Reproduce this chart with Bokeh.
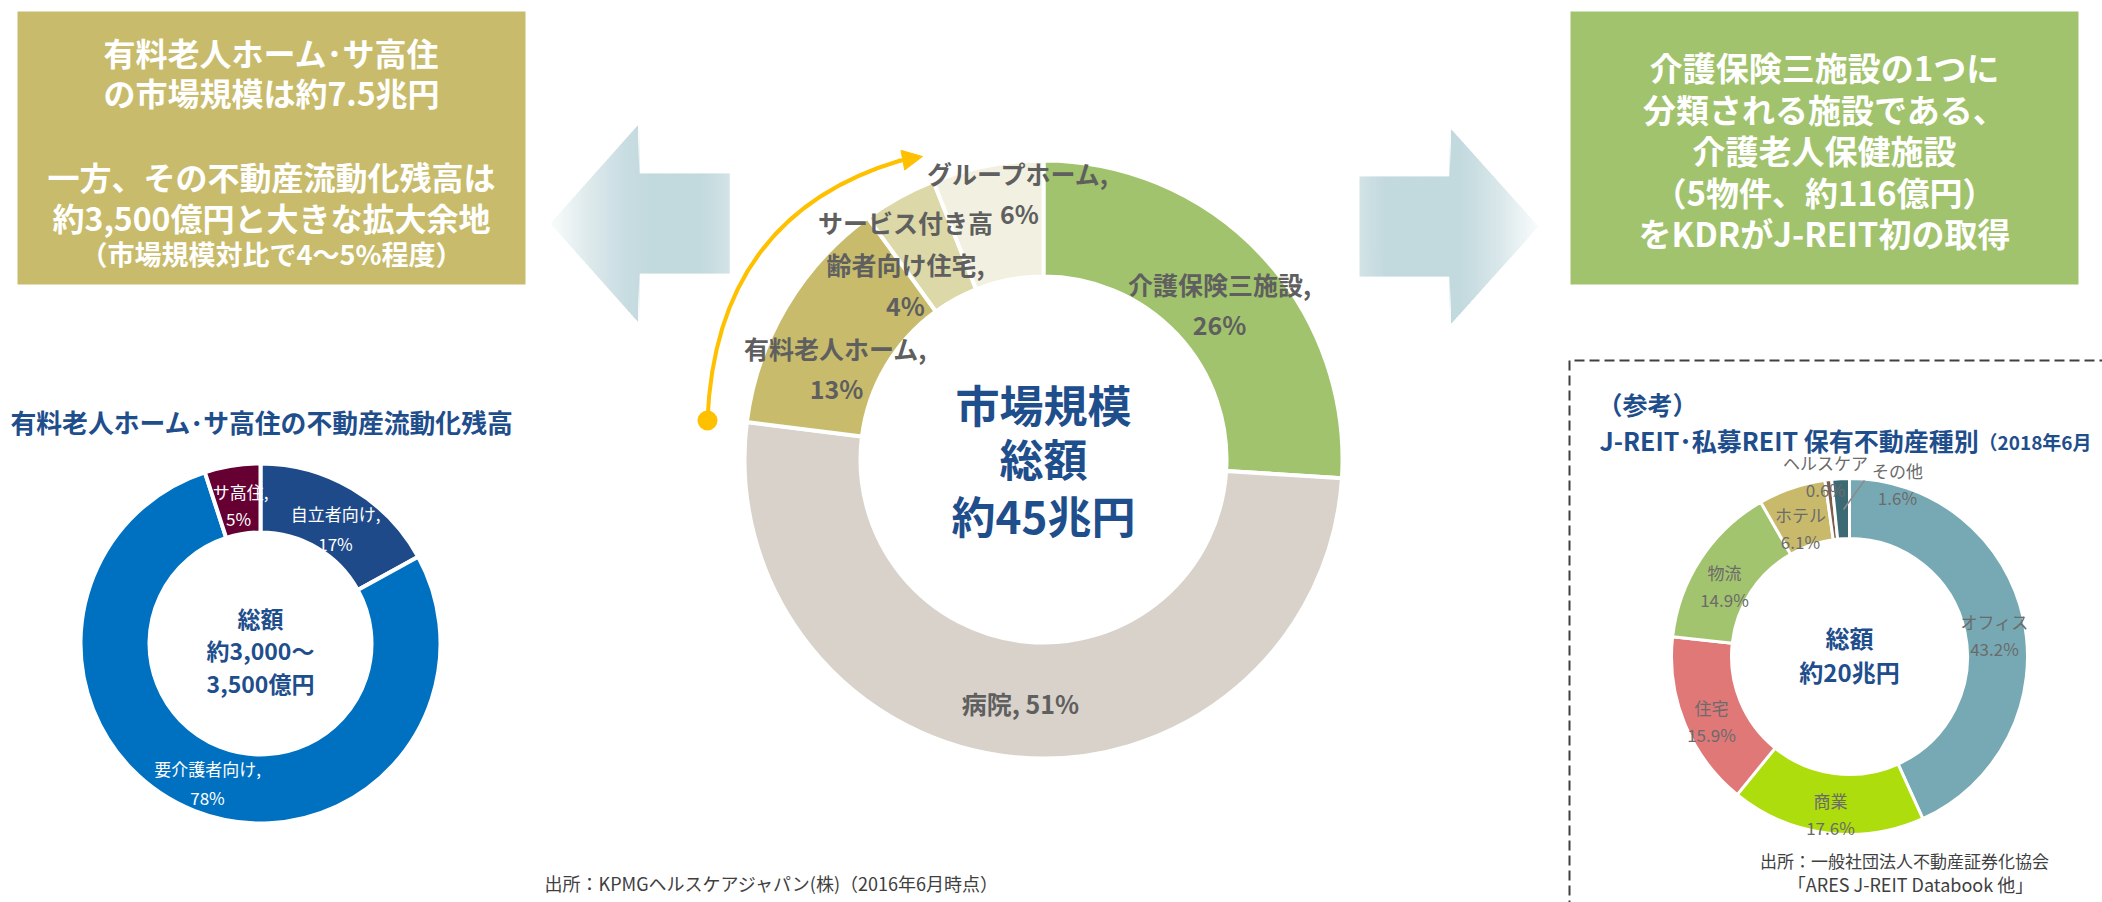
import numpy as np
from bokeh.plotting import figure
from bokeh.models import Range1d, Arrow, NormalHead, ColumnDataSource
from bokeh.core.properties import value
from bokeh.embed import file_html
from bokeh.resources import INLINE

# ---------------- data ----------------
market_labels = ["介護保険三施設", "病院", "有料老人ホーム", "サービス付き高齢者向け住宅", "グループホーム"]
market_share = [26, 51, 13, 4, 6]
market_colors = ["#A2C36D", "#D8D2CA", "#C8BC6C", "#DDD8A8", "#F2F0E0"]
market_center = ["市場規模", "総額", "約45兆円"]

stock_labels = ["自立者向け", "要介護者向け", "サ高住"]
stock_share = [17, 78, 5]
stock_colors = ["#1F4A8A", "#0070C0", "#660033"]
stock_title = "有料老人ホーム･サ高住の不動産流動化残高"
stock_center = ["総額", "約3,000～", "3,500億円"]

reit_labels = ["オフィス", "商業", "住宅", "物流", "ホテル", "ヘルスケア", "その他"]
reit_share = [43.2, 17.6, 15.9, 14.9, 6.1, 0.6, 1.6]
reit_colors = ["#76A9B3", "#AEDD0E", "#E07878", "#A3C46E", "#C9BA6B", "#7D5E4E", "#3B6A74"]
reit_title = ["（参考）", "J-REIT･私募REIT 保有不動産種別", "（2018年6月"]
reit_center = ["総額", "約20兆円"]

left_box_lines = ["有料老人ホーム･サ高住", "の市場規模は約7.5兆円",
                  "一方、その不動産流動化残高は", "約3,500億円と大きな拡大余地",
                  "（市場規模対比で4～5%程度）"]
right_box_lines = ["介護保険三施設の1つに", "分類される施設である、", "介護老人保健施設",
                   "（5物件、約116億円）", "をKDRがJ-REIT初の取得"]
source_center = "出所：KPMGヘルスケアジャパン(株)（2016年6月時点）"
source_right = ["出所：一般社団法人不動産証券化協会", "「ARES J-REIT Databook 他」"]

# ---------------- layout ----------------
FONT = "Noto Sans CJK JP"
BLUE = "#1F4E8C"
W, H = 2102, 902


def Y(y):
    return H - y


p = figure(width=W, height=H, output_backend="svg", toolbar_location=None,
           x_range=Range1d(0, W), y_range=Range1d(0, H), min_border=0)
p.axis.visible = False
p.grid.visible = False
p.outline_line_color = None
p.background_fill_color = "white"
p.border_fill_color = "white"


def txt(x, y, s, size, color, bold=False, align="center"):
    p.text(x=[x], y=[Y(y)], text=[s], text_font=value(FONT),
           text_font_size=f"{size}px", text_color=color,
           text_font_style="bold" if bold else "normal",
           text_align=align, text_baseline="middle")


def donut(cx, cy, r_in, r_out, shares, colors, sep):
    v = np.array(shares, dtype=float)
    c = np.concatenate([[0], np.cumsum(v)]) / v.sum()
    start = np.pi / 2 - 2 * np.pi * c[1:]
    end = np.pi / 2 - 2 * np.pi * c[:-1]
    src = ColumnDataSource(dict(start=start, end=end, color=colors))
    p.annular_wedge(x=cx, y=Y(cy), inner_radius=r_in, outer_radius=r_out,
                    start_angle="start", end_angle="end", fill_color="color",
                    line_color="white", line_width=sep, source=src)


def grad_arrow(tip, base, end, cy, head_half, shaft_half, stops):
    sx = [s[0] for s in stops]
    xs, ys, cols = [], [], []
    lo, hi = min(tip, end), max(tip, end)
    edges = np.arange(lo, hi + 1.5, 1.5)
    for a, b in zip(edges[:-1], edges[1:]):
        b2 = min(b + 0.6, hi)

        def half(x):
            if (x - base) * (tip - base) > 0:
                return head_half * (x - tip) / (base - tip)
            return shaft_half
        pts_x = [a, b2, b2, a]
        if (a - base) * (b2 - base) < 0:
            pts_x = [a, base, b2, b2, base, a]
        hs = [half(x) for x in pts_x]
        n = len(pts_x) // 2
        yy = [Y(cy - hs[i]) for i in range(n)] + [Y(cy + hs[i]) for i in range(n, 2 * n)]
        xs.append(pts_x)
        ys.append(yy)
        m = (a + b) / 2
        rgb = [int(round(np.interp(m, sx, [s[1][k] for s in stops]))) for k in range(3)]
        cols.append("#%02x%02x%02x" % tuple(rgb))
    p.patches(xs=xs, ys=ys, fill_color=cols, line_color=None)


# ---- boxes ----
p.quad(left=[17], right=[525], top=[Y(11)], bottom=[Y(284)], fill_color="#C8BC6C", line_color=None)
p.quad(left=[1570], right=[2078], top=[Y(11)], bottom=[Y(284)], fill_color="#A2C36D", line_color=None)
for s, yy, fs in zip(left_box_lines, [51, 91, 175, 216, 253], [32, 32, 32, 32, 27]):
    txt(271, yy, s, fs, "white", bold=True)
for s, yy in zip(right_box_lines, [66, 108, 149, 191, 232]):
    txt(1824, yy, s, 33, "white", bold=True)

# ---- gradient arrows ----
grad_arrow(550, 639, 729, 223, 100, 50,
           [(550, (250, 252, 252)), (587, (222, 234, 236)), (625, (200, 221, 226)),
            (650, (194, 217, 222)), (700, (194, 217, 222)), (729, (210, 227, 230))])
grad_arrow(1538, 1449, 1359, 226, 99, 50,
           [(1359, (210, 227, 230)), (1385, (194, 217, 222)), (1460, (194, 217, 222)),
            (1500, (218, 232, 235)), (1538, (250, 252, 252))])

# ---- center donut ----
donut(1043, 459, 183, 299, market_share, market_colors, 4)
GRAY = "#5F5F5F"
m = market_labels
ms = market_share
FS = 25
txt(1219, 283, f"{m[0]},", FS, GRAY, True)
txt(1219, 323, f"{ms[0]}%", FS, GRAY, True)
txt(1020, 702, f"{m[1]}, {ms[1]}%", FS, GRAY, True)
txt(835, 347, f"{m[2]},", FS, GRAY, True)
txt(836, 387, f"{ms[2]}%", FS, GRAY, True)
txt(905, 221, m[3][:7], FS, GRAY, True)
txt(905, 263, m[3][7:] + ",", FS, GRAY, True)
txt(905, 304, f"{ms[3]}%", FS, GRAY, True)
txt(1018, 172, f"{m[4]},", FS, GRAY, True)
txt(1019, 212, f"{ms[4]}%", FS, GRAY, True)
for s, yy in zip(market_center, [403, 457, 514]):
    txt(1043, yy, s, 44, BLUE, True)

# orange arc with arrow
ORANGE = "#FFC000"
p.quadratic(x0=[707], y0=[Y(420)], x1=[900], y1=[Y(160)], cx=[715], cy=[Y(215)],
            line_color=ORANGE, line_width=4)
p.add_layout(Arrow(end=NormalHead(size=20, fill_color=ORANGE, line_color=ORANGE),
                   x_start=898, y_start=Y(160.5), x_end=922, y_end=Y(156),
                   line_color=ORANGE, line_width=4))
p.scatter(x=[707], y=[Y(420)], size=20, marker="circle", fill_color=ORANGE, line_color=None)

txt(544, 882, source_center, 18, "#404040", align="left")

# ---- left donut ----
txt(10, 421, stock_title, 25.8, BLUE, True, align="left")
donut(260, 643, 111, 180, stock_share, stock_colors, 4)
sl, ss = stock_labels, stock_share
txt(335, 513, f"{sl[0]},", 17, "white")
txt(335, 543, f"{ss[0]}%", 17, "white")
txt(207, 768, f"{sl[1]},", 17, "white")
txt(207, 797, f"{ss[1]}%", 17, "white")
txt(240, 491, f"{sl[2]},", 17, "white")
txt(238, 518, f"{ss[2]}%", 17, "white")
for s, yy in zip(stock_center, [617, 649, 682]):
    txt(260, yy, s, 23, BLUE, True)

# ---- right panel ----
p.line(x=[1569, 1569, 2110], y=[Y(910), Y(360), Y(360)], line_color="#404040",
       line_width=2, line_dash="10 5")
txt(1597, 403, reit_title[0], 25, BLUE, True, align="left")
txt(1599, 439, reit_title[1], 25, BLUE, True, align="left")
txt(1978, 441, reit_title[2], 19, BLUE, True, align="left")
donut(1849, 656, 118, 178, reit_share, reit_colors, 3)
RG = "#6B6B6B"
rl, rs = reit_labels, reit_share
rpos = [(1994, 621), (1830, 800), (1711, 707), (1724, 572), (1800, 514), (1825, 462), (1897, 470)]
for lab, v, (x, yy) in zip(rl, rs, rpos):
    txt(x, yy, lab, 17, RG)
    txt(x, yy + 27, f"{v}%", 17, RG)
p.line(x=[1864, 1843], y=[Y(480), Y(509)], line_color="#8C8C8C", line_width=1.5)
for s, yy in zip(reit_center, [637, 671]):
    txt(1849, yy, s, 24, BLUE, True)
txt(1904, 860, source_right[0], 17, "#404040")
txt(1910, 883, source_right[1], 18, "#404040")

open("out.html", "w").write(file_html(p, INLINE))
